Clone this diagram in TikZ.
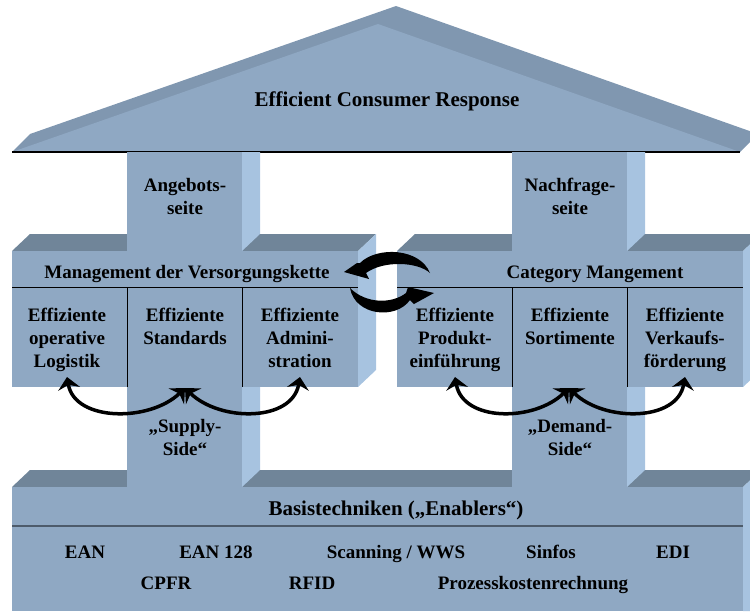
\documentclass[tikz,border=0pt]{standalone}
\usepackage{fontspec}
\setmainfont{Liberation Serif}
\usetikzlibrary{arrows.meta}
\definecolor{hfront}{RGB}{143,168,195}
\definecolor{hroof}{RGB}{128,151,176}
\definecolor{htop}{RGB}{112,133,153}
\definecolor{hside}{RGB}{167,195,224}
\definecolor{hrule}{RGB}{77,91,107}

\begin{document}
\begin{tikzpicture}[x=1pt,y=-1pt,
    lbl/.style={font=\bfseries\fontsize{19}{23}\selectfont,align=center,inner sep=0pt},
    head/.style={font=\bfseries\fontsize{21}{25}\selectfont,inner sep=0pt},
    swing/.style={line width=3.5pt,{Stealth[length=12pt,width=22pt,inset=4pt]}-{Stealth[length=12pt,width=22pt,inset=4pt]}}]
  \useasboundingbox (0,0) rectangle (750,611);
  \clip (0,0) rectangle (750,611);
  % roof
  \fill[hroof] (12,152) -- (30,134) -- (396,6) -- (758,134) -- (740,152) -- cycle;
  \fill[hfront] (12,152) -- (378,24) -- (740,152) -- cycle;
  \draw[line width=1.5pt] (12,152) -- (740,152);
  % base
  \fill[htop] (12,487) -- (30,470) -- (761,470) -- (743,487) -- cycle;
  \fill[hfront] (12,487) rectangle (743,611);
  \fill[hside] (743,487) -- (761,470) -- (761,611) -- (743,611) -- cycle;
  \draw[hrule,line width=2pt] (12,526) -- (743,526);
  % pillars and shelves
  \foreach \x in {0,385} {
    \fill[hfront] (127+\x,370) rectangle (242+\x,487);
    \fill[hside] (242+\x,370) -- (260+\x,370) -- (260+\x,470) -- (242+\x,487) -- cycle;
    \fill[htop] (12+\x,251) -- (30+\x,234) -- (376+\x,234) -- (358+\x,251) -- cycle;
    \fill[hfront] (127+\x,152) rectangle (242+\x,251);
    \fill[hside] (242+\x,152) -- (260+\x,152) -- (260+\x,234) -- (242+\x,251) -- cycle;
    \fill[hfront] (12+\x,251) rectangle (358+\x,387);
    \fill[hside] (358+\x,251) -- (376+\x,234) -- (376+\x,370) -- (358+\x,387) -- cycle;
    \draw[thin] (12+\x,287) -- (358+\x,287) (127+\x,287) -- (127+\x,387) (242+\x,287) -- (242+\x,387);
  }

  \node[head,anchor=base] (ecr) at (387,106) {Efficient Consumer Response};
  \node[lbl,anchor=north] (angebot) at (185,178) {Angebots-\\seite};
  \node[lbl,anchor=north] (nachfrage) at (570,178) {Nachfrage-\\seite};
  \node[lbl,anchor=base] (vk) at (187,278) {Management der Versorgungskette};
  \node[lbl,anchor=base] (cm) at (595,278) {Category Mangement};
  \node[lbl,anchor=north] (log) at (67,308) {Effiziente\\operative\\Logistik};
  \node[lbl,anchor=north] (std) at (185,308) {Effiziente\\Standards};
  \node[lbl,anchor=north] (adm) at (300,308) {Effiziente\\Admini-\\stration};
  \node[lbl,anchor=north] (prod) at (455,308) {Effiziente\\Produkt-\\einführung};
  \node[lbl,anchor=north] (sort) at (570,308) {Effiziente\\Sortimente};
  \node[lbl,anchor=north] (vkf) at (685,308) {Effiziente\\Verkaufs-\\förderung};
  \node[lbl,anchor=north] (supply) at (185,419) {„Supply-\\Side“};
  \node[lbl,anchor=north] (demand) at (570,419) {„Demand-\\Side“};
  \node[head,anchor=base] (basis) at (396,515) {Basistechniken („Enablers“)};
  \node[lbl,anchor=base] (ean) at (85,558) {EAN};
  \node[lbl,anchor=base] (ean128) at (216,558) {EAN 128};
  \node[lbl,anchor=base] (scan) at (396,558) {Scanning / WWS};
  \node[lbl,anchor=base] (sinfos) at (551,558) {Sinfos};
  \node[lbl,anchor=base] (edi) at (673,558) {EDI};
  \node[lbl,anchor=base] (cpfr) at (166,589) {CPFR};
  \node[lbl,anchor=base] (rfid) at (312,589) {RFID};
  \node[lbl,anchor=base] (pkr) at (533,589) {Prozesskostenrechnung};

  \coordinate (log-a) at (67,377);
  \coordinate (std-a) at (185,388);
  \coordinate (adm-a) at (300,377);
  \coordinate (prod-a) at (455,377);
  \coordinate (sort-a) at (569,388);
  \coordinate (vkf-a) at (685,377);
  \draw[swing] (log-a) .. controls (75,422) and (150,422) .. (std-a);
  \draw[swing] (std-a) .. controls (220,422) and (292,422) .. (adm-a);
  \draw[swing] (prod-a) .. controls (463,422) and (534,422) .. (sort-a);
  \draw[swing] (sort-a) .. controls (604,422) and (677,422) .. (vkf-a);

  % exchange arrows
  \fill (344,272) -- (357,263) -- (360,263) .. controls (377,246) and (420,248) .. (430,273)
    .. controls (418,262) and (384,260) .. (366,273) -- (369,279) -- cycle;
  \fill (350,288) .. controls (355,316) and (396,320) .. (410,300) -- (414,304) -- (434,293)
    -- (408,287) -- (406,293) .. controls (392,304) and (366,304) .. (350,288) -- cycle;
\end{tikzpicture}
\end{document}
